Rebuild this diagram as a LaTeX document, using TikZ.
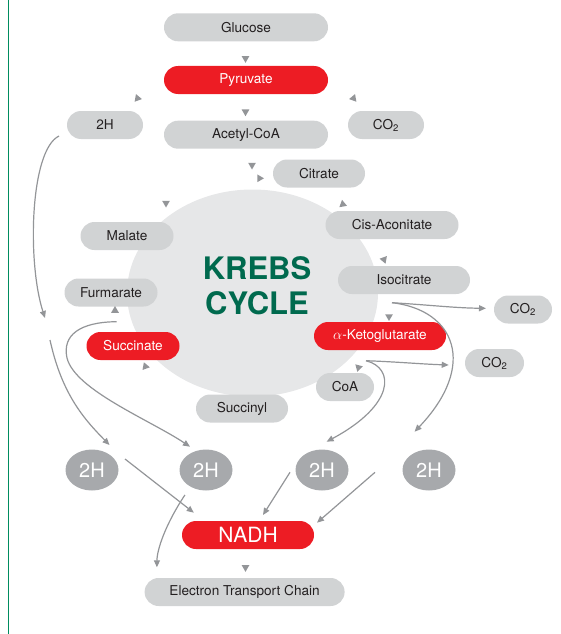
\documentclass[tikz,border=0pt]{standalone}
\usepackage{fontspec}
\setmainfont{TeX Gyre Heros}
\usetikzlibrary{shapes.geometric,arrows.meta}
\definecolor{boxgray}{RGB}{209,211,212}
\definecolor{cyclegray}{RGB}{230,231,232}
\definecolor{dotgray}{RGB}{167,169,172}
\definecolor{linegray}{RGB}{147,149,152}
\definecolor{krebsred}{RGB}{237,28,36}
\definecolor{krebsgreen}{RGB}{0,106,78}
\definecolor{edgegreen}{RGB}{0,140,95}
\definecolor{ink}{RGB}{35,31,32}
\tikzstyle{compound} = [rectangle, rounded corners=14pt, minimum height=28pt, inner sep=0pt, text centered, fill=boxgray, text=ink, font=\fontsize{13.6}{16}\selectfont]
\tikzstyle{keystep} = [compound, fill=krebsred, text=white]
\tikzstyle{hydrogen} = [ellipse, minimum width=53pt, minimum height=41pt, inner sep=0pt, fill=dotgray, text=white, font=\fontsize{20}{24}\selectfont]
\tikzstyle{pointer} = [regular polygon, regular polygon sides=3, minimum size=9pt, inner sep=0pt, fill=linegray]
\tikzstyle{flowline} = [draw=linegray, line width=1.2pt, -{Triangle[length=7pt,width=6pt]}]

\begin{document}
\begin{tikzpicture}[x=1pt, y=-1pt]

	\useasboundingbox (0,0) rectangle (560,634);
	\draw[edgegreen, line width=1.5pt] (8.6,0) -- (8.6,634);

	\node (cycle) [ellipse, fill=cyclegray, minimum width=251pt, minimum height=207pt] at (252.5,293) {};
	\node (title) [align=center, text=krebsgreen, font=\fontsize{31}{35}\selectfont\bfseries] at (257,286) {KREBS\\CYCLE};

	\node (glucose) [compound, minimum width=164pt] at (246,27.3) {Glucose};
	\node (pyruvate) [keystep, minimum width=164pt] at (246,80) {Pyruvate};
	\node (acetyl) [compound, minimum width=164pt] at (246,134.7) {Acetyl-CoA};
	\node (hpyr) [compound, minimum width=76pt] at (105,125) {2H};
	\node (cpyr) [compound, minimum width=76pt] at (386,125) {CO\textsubscript{2}};

	\node (citrate) [compound, minimum width=92pt] at (319,173.5) {Citrate};
	\node (cisacon) [compound, minimum width=133pt] at (392,225) {Cis-Aconitate};
	\node (isocit) [compound, minimum width=132pt] at (404,280) {Isocitrate};
	\node (akg) [keystep, minimum width=132pt] at (380,336) {$\alpha$-Ketoglutarate};
	\node (coa) [compound, minimum width=58pt] at (345,387) {CoA};
	\node (succinyl) [compound, minimum width=92pt] at (242,408.5) {Succinyl};
	\node (succinate) [keystep, minimum width=93pt] at (133,346) {Succinate};
	\node (furm) [compound, minimum width=93pt] at (111,292.5) {Furmarate};
	\node (malate) [compound, minimum width=93pt] at (127,236) {Malate};
	\node (ciso) [compound, minimum width=58pt] at (523,309.5) {CO\textsubscript{2}};
	\node (cakg) [compound, minimum width=59pt] at (494.5,363) {CO\textsubscript{2}};

	\node (h1) [hydrogen] at (92,470) {2H};
	\node (h2) [hydrogen] at (206,470) {2H};
	\node (h3) [hydrogen] at (322,470) {2H};
	\node (h4) [hydrogen] at (429,470) {2H};
	\node (nadh) [keystep, minimum width=132pt, font=\fontsize{21}{24}\selectfont] at (248,535) {NADH};
	\node (etc) [compound, minimum width=200pt] at (244.6,592) {Electron Transport Chain};

	% small step markers
	\node (p1) [pointer, rotate=180] at (245.5,58.3) {};
	\node (p2) [pointer, rotate=180] at (245.5,111.7) {};
	\node (p3) [pointer, rotate=20] at (137.5,98.3) {};
	\node (p4) [pointer, rotate=-20] at (353.5,98.3) {};
	\node (p5) [pointer, rotate=60] at (252,165) {};
	\node (p6) [pointer, rotate=-90] at (259.5,178.3) {};
	\node (p7) [pointer, rotate=180] at (166,203) {};
	\node (p8) [pointer, rotate=10] at (342.8,204.3) {};
	\node (p9) [pointer, rotate=80] at (384,259.5) {};
	\node (p10) [pointer] at (115,310.5) {};
	\node (p11) [pointer, rotate=180] at (389,316.5) {};
	\node (p12) [pointer, rotate=-100] at (145.4,366.5) {};
	\node (p13) [pointer, rotate=45] at (358.5,367.5) {};
	\node (p14) [pointer, rotate=180] at (245.5,567.3) {};

	% loose ends of the curved connectors
	\coordinate (hpyrout) at (59,136);
	\coordinate (hpyrin) at (45,318);
	\coordinate (hfurout) at (50,340);
	\coordinate (h1in) at (109.5,445);
	\coordinate (succout) at (116.7,321.7);
	\coordinate (h2in) at (190,446.7);
	\coordinate (isoout) at (392,302.7);
	\coordinate (cisoin) at (486,308.3);
	\coordinate (h4in) at (414.6,431.7);
	\coordinate (akgout) at (366,360.7);
	\coordinate (cakgin) at (448.7,365);
	\coordinate (h3in) at (326.6,441.7);
	\coordinate (h1out) at (125,459);
	\coordinate (h2out) at (184.9,495);
	\coordinate (h3out) at (290,472.3);
	\coordinate (h4out) at (375,472.3);
	\coordinate (nadhw) at (193.8,512.7);
	\coordinate (nadhn) at (263,515);
	\coordinate (nadhe) at (317,522.7);
	\coordinate (etcin) at (156.9,567.3);

	\draw[flowline] (hpyrout) .. controls (30,150) and (27,262) .. (hpyrin);
	\draw[flowline] (hfurout) .. controls (62,395) and (85,420) .. (h1in);
	\draw[flowline] (succout) .. controls (80,322) and (62,335) .. (67,358) .. controls (75,390) and (150,420) .. (h2in);
	\draw[flowline] (isoout) .. controls (430,305) and (455,308) .. (cisoin);
	\draw[flowline] (isoout) .. controls (455,310) and (478,365) .. (h4in);
	\draw[flowline] (akgout) .. controls (400,362) and (420,364) .. (cakgin);
	\draw[flowline] (akgout) .. controls (395,368) and (395,405) .. (h3in);
	\draw[flowline] (h1out) -- (nadhw);
	\draw[flowline] (h2out) .. controls (165,525) and (157,550) .. (etcin);
	\draw[flowline] (h3out) -- (nadhn);
	\draw[flowline] (h4out) -- (nadhe);

\end{tikzpicture}
\end{document}
